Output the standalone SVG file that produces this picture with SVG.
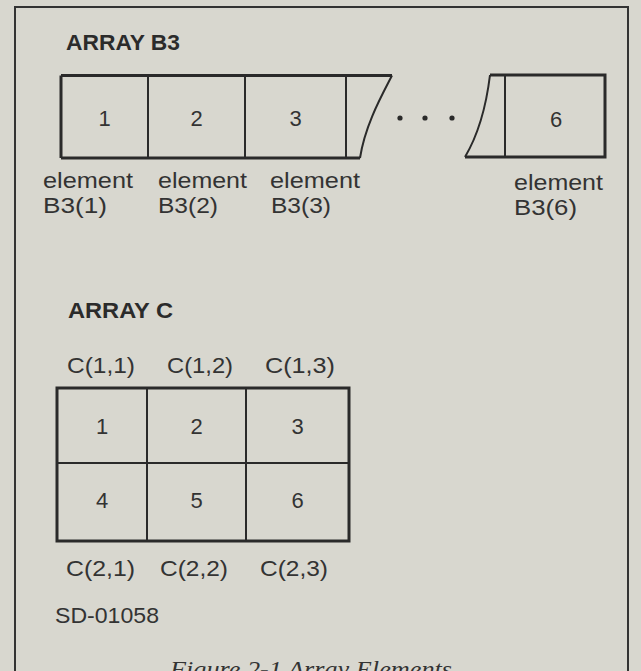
<svg xmlns="http://www.w3.org/2000/svg" width="641" height="671" viewBox="0 0 641 671">
<style>
.bg{fill:#d8d7cf}
.frame{fill:none;stroke:#333;stroke-width:2}
.box{fill:none;stroke:#2a2a2a;stroke-width:3;stroke-linejoin:miter}
.div{fill:none;stroke:#2a2a2a;stroke-width:2}
.title{font-family:"Liberation Sans",Arial,sans-serif;font-weight:bold;font-size:22px;fill:#2b2b2b}
.lbl{font-family:"Liberation Sans",Arial,sans-serif;font-size:22px;fill:#333}
.num{font-family:"Liberation Sans",Arial,sans-serif;font-size:22px;fill:#333;text-anchor:middle}
.cap{font-family:"Liberation Serif","Times New Roman",serif;font-style:italic;font-size:24px;fill:#333}
</style>
<rect class="bg" x="0" y="0" width="641" height="671"/>
<path class="frame" d="M15,690 V7 H628 V690"/>

<g id="arrayB3">
  <text class="title" x="66" y="50" textLength="114" lengthAdjust="spacingAndGlyphs">ARRAY B3</text>
  <g id="b3-cells">
    <path class="box" d="M61,75.5 H392 M61,158 H360 M61,75.5 V158"/>
    <path class="div" d="M148,75.5 V158 M245,75.5 V158 M346,75.5 V158"/>
    <path class="div" d="M392,75.5 C382,95 365,125 360,158"/>
    <text class="num" x="104.5" y="126">1</text>
    <text class="num" x="196.5" y="126">2</text>
    <text class="num" x="295.5" y="126">3</text>
  </g>
  <g id="b3-dots" fill="#2a2a2a">
    <circle cx="400" cy="118" r="2.6"/>
    <circle cx="425" cy="118" r="2.6"/>
    <circle cx="452" cy="118" r="2.6"/>
  </g>
  <g id="b3-cell6">
    <path class="box" d="M490,75 H605 V157 H465"/>
    <path class="div" d="M490,75 C486,108 478,135 465,157 M505,75 V157"/>
    <text class="num" x="556" y="127">6</text>
  </g>
  <g id="b3-labels">
    <text class="lbl" x="43" y="188" textLength="90" lengthAdjust="spacingAndGlyphs">element</text>
    <text class="lbl" x="43" y="213" textLength="64" lengthAdjust="spacingAndGlyphs">B3(1)</text>
    <text class="lbl" x="158" y="188" textLength="89" lengthAdjust="spacingAndGlyphs">element</text>
    <text class="lbl" x="158" y="213" textLength="60" lengthAdjust="spacingAndGlyphs">B3(2)</text>
    <text class="lbl" x="270" y="188" textLength="90" lengthAdjust="spacingAndGlyphs">element</text>
    <text class="lbl" x="271" y="213" textLength="60" lengthAdjust="spacingAndGlyphs">B3(3)</text>
    <text class="lbl" x="514" y="190" textLength="89" lengthAdjust="spacingAndGlyphs">element</text>
    <text class="lbl" x="514" y="215" textLength="63" lengthAdjust="spacingAndGlyphs">B3(6)</text>
  </g>
</g>

<g id="arrayC">
  <text class="title" x="68" y="318" textLength="105" lengthAdjust="spacingAndGlyphs">ARRAY C</text>
  <g id="c-top-labels">
    <text class="lbl" x="67" y="373" textLength="68" lengthAdjust="spacingAndGlyphs">C(1,1)</text>
    <text class="lbl" x="167" y="373" textLength="66" lengthAdjust="spacingAndGlyphs">C(1,2)</text>
    <text class="lbl" x="265" y="373" textLength="70" lengthAdjust="spacingAndGlyphs">C(1,3)</text>
  </g>
  <g id="c-grid">
    <rect class="box" x="57" y="388" width="292" height="153"/>
    <path class="div" d="M147,388 V541 M246,388 V541 M57,463 H349"/>
    <text class="num" x="102" y="434">1</text>
    <text class="num" x="196.5" y="434">2</text>
    <text class="num" x="297.5" y="434">3</text>
    <text class="num" x="102" y="508">4</text>
    <text class="num" x="196.5" y="508">5</text>
    <text class="num" x="297.5" y="508">6</text>
  </g>
  <g id="c-bottom-labels">
    <text class="lbl" x="66" y="576" textLength="69" lengthAdjust="spacingAndGlyphs">C(2,1)</text>
    <text class="lbl" x="160" y="576" textLength="68" lengthAdjust="spacingAndGlyphs">C(2,2)</text>
    <text class="lbl" x="260" y="576" textLength="68" lengthAdjust="spacingAndGlyphs">C(2,3)</text>
  </g>
</g>

<text class="lbl" x="55" y="623" textLength="104" lengthAdjust="spacingAndGlyphs">SD-01058</text>
<text class="cap" x="170" y="677" textLength="282" lengthAdjust="spacingAndGlyphs">Figure 2-1  Array Elements</text>
</svg>
